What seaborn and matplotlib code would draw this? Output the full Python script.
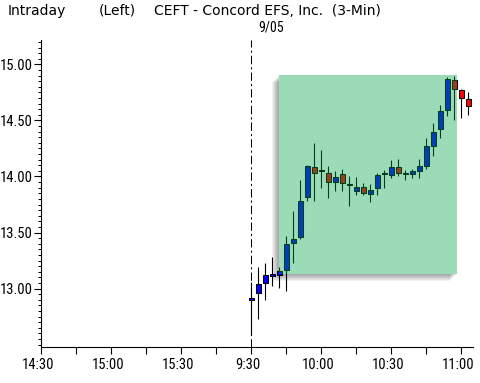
import matplotlib
matplotlib.use("Agg")
import matplotlib.pyplot as plt
import matplotlib.transforms as mtransforms
from matplotlib.patches import Rectangle
from matplotlib.ticker import FixedLocator, MultipleLocator, FormatStrFormatter
import seaborn as sns
import numpy as np

# ---------------- data ----------------
bar_times = ["9:30", "9:33", "9:36", "9:39", "9:42", "9:45", "9:48", "9:51",
             "9:54", "9:57", "10:00", "10:03", "10:06", "10:09", "10:12", "10:15",
             "10:18", "10:21", "10:24", "10:27", "10:30", "10:33", "10:36", "10:39",
             "10:42", "10:45", "10:48", "10:51", "10:54", "10:57", "11:00", "11:03"]
opens = [12.894, 12.96, 13.05, 13.115, 13.125, 13.165, 13.41, 13.46,
         13.82, 14.085, 14.05, 14.03, 13.952, 14.02, 13.93, 13.87,
         13.91, 13.845, 13.90, 14.018, 14.015, 14.083, 14.018, 14.023,
         14.05, 14.092, 14.273, 14.422, 14.589, 14.857, 14.768, 14.687]
highs = [13.06, 13.19, 13.23, 13.28, 13.19, 13.47, 13.69, 13.97,
         14.10, 14.295, 14.24, 14.09, 14.045, 14.065, 14.00, 13.995,
         13.94, 13.93, 14.03, 14.056, 14.146, 14.155, 14.056, 14.065,
         14.16, 14.34, 14.473, 14.64, 14.884, 14.90, 14.78, 14.753]
lows = [12.583, 12.73, 12.90, 13.02, 13.005, 12.98, 13.23, 13.44,
        13.78, 13.78, 13.893, 13.81, 13.87, 13.87, 13.735, 13.833,
        13.833, 13.773, 13.833, 13.90, 13.99, 14.00, 13.967, 13.99,
        13.99, 14.07, 14.18, 14.34, 14.54, 14.50, 14.523, 14.55]
closes = [12.920, 13.045, 13.12, 13.128, 13.155, 13.40, 13.445, 13.785,
          14.09, 14.03, 14.06, 13.95, 13.994, 13.946, 13.92, 13.91,
          13.855, 13.875, 14.01, 14.029, 14.083, 14.032, 14.027, 14.047,
          14.09, 14.268, 14.40, 14.58, 14.866, 14.777, 14.696, 14.625]

major_tick_labels = ["14:30", "15:00", "15:30", "9:30", "10:00", "10:30", "11:00"]
minor_tick_labels = ["14:45", "15:15", "15:45", "9:45", "10:15", "10:45"]
price_ticks = [13.00, 13.50, 14.00, 14.50, 15.00]
session_break = "9:30"
zone_times = ["9:42", "10:58"]
zone_prices = [13.13, 14.905]

title_left = "Intraday"
title_mid = "(Left)"
title_main = "CEFT - Concord EFS, Inc.  (3-Min)"
date_label = "9/05"


def to_axis(t):
    """Map clock time onto a continuous axis: prior day 14:30-16:00, then 9:30 onward."""
    h, m = (int(v) for v in t.split(":"))
    mins = h * 60 + m
    if h >= 12:
        return mins - (14 * 60 + 30)
    return mins - (9 * 60 + 30) + 90


# ---------------- style ----------------
sns.set_theme(style="white")
plt.rcParams["font.family"] = ["Roboto Condensed", "DejaVu Sans"]

W, H = 481, 383
fig = plt.figure(figsize=(W / 100, H / 100), dpi=100)
fig.patch.set_facecolor("white")
ax = fig.add_axes([40.7 / W, (H - 346.7) / H, 432.3 / W, 306.7 / H])
ax.set_facecolor("white")

x = np.array([to_axis(t) for t in bar_times], dtype=float)
o = np.array(opens)
c = np.array(closes)
hi = np.array(highs)
lo = np.array(lows)
up = c >= o
body_colors = np.where(up, "#0000FF", "#FF0000")

# shadow + zone base
zx0, zx1 = to_axis(zone_times[0]), to_axis(zone_times[1])
zy0, zy1 = zone_prices
for k in range(1, 8):
    tr = mtransforms.offset_copy(ax.transData, fig=fig, x=-k, y=-k, units="dots")
    ax.add_patch(Rectangle((zx0, zy0), zx1 - zx0, zy1 - zy0, transform=tr,
                           facecolor="black", alpha=0.055, edgecolor="none", zorder=1))
ax.add_patch(Rectangle((zx0, zy0), zx1 - zx0, zy1 - zy0, facecolor="white",
                       edgecolor="none", zorder=1.5))

# candles
ax.vlines(x, lo, hi, color="black", linewidth=0.8, zorder=2)
ax.bar(x, c - o, bottom=o, width=2.2, color=body_colors, edgecolor="black",
       linewidth=0.75, zorder=2.5)

# translucent green zone overlay
ax.add_patch(Rectangle((zx0, zy0), zx1 - zx0, zy1 - zy0,
                       facecolor=(0.0, 164 / 255, 74 / 255), alpha=0.39,
                       edgecolor="none", zorder=3))

# session break
ax.axvline(to_axis(session_break), color="black", linewidth=0.75,
           linestyle=(0, (8, 3, 2, 3)), zorder=4)

# axes
ax.set_xlim(-0.3, 185)
ax.set_ylim(12.482, 15.217)
for s in ["top", "right"]:
    ax.spines[s].set_visible(False)
for s in ["left", "bottom"]:
    ax.spines[s].set_color("black")
    ax.spines[s].set_linewidth(0.8)

ax.xaxis.set_major_locator(FixedLocator([to_axis(t) for t in major_tick_labels]))
ax.set_xticklabels(major_tick_labels)
ax.xaxis.set_minor_locator(FixedLocator([to_axis(t) for t in minor_tick_labels]))
ax.tick_params(axis="x", which="both", direction="out", length=5, width=0.8,
               color="black", bottom=True, labelsize=10.5, pad=3, labelcolor="black")
shift = mtransforms.ScaledTranslation(-3 / 100, 0, fig.dpi_scale_trans)
for lab in ax.get_xticklabels():
    lab.set_transform(lab.get_transform() + shift)

ax.yaxis.set_major_locator(FixedLocator(price_ticks))
ax.yaxis.set_major_formatter(FormatStrFormatter("%.2f"))
ax.yaxis.set_minor_locator(MultipleLocator(0.05))
ax.tick_params(axis="y", which="major", direction="out", length=5, width=0.8,
               color="black", left=True, labelsize=10.5, pad=0.5, labelcolor="black")
ax.tick_params(axis="y", which="minor", direction="out", length=2.2, width=0.7,
               color="black", left=True)
ax.grid(False)

# header texts
def ftext(px, py, s, **kw):
    fig.text(px / W, 1 - py / H, s, va="baseline", ha="left", color="black", **kw)

ftext(8, 15, title_left, fontsize=10, family=["DejaVu Sans"])
ftext(99, 15, title_mid, fontsize=10, family=["DejaVu Sans"])
ftext(154, 15, title_main, fontsize=10, family=["DejaVu Sans"])
ftext(258, 32, date_label, fontsize=10, family=["Roboto Condensed", "DejaVu Sans"])

fig.savefig("out.png", dpi=100, facecolor="white")
